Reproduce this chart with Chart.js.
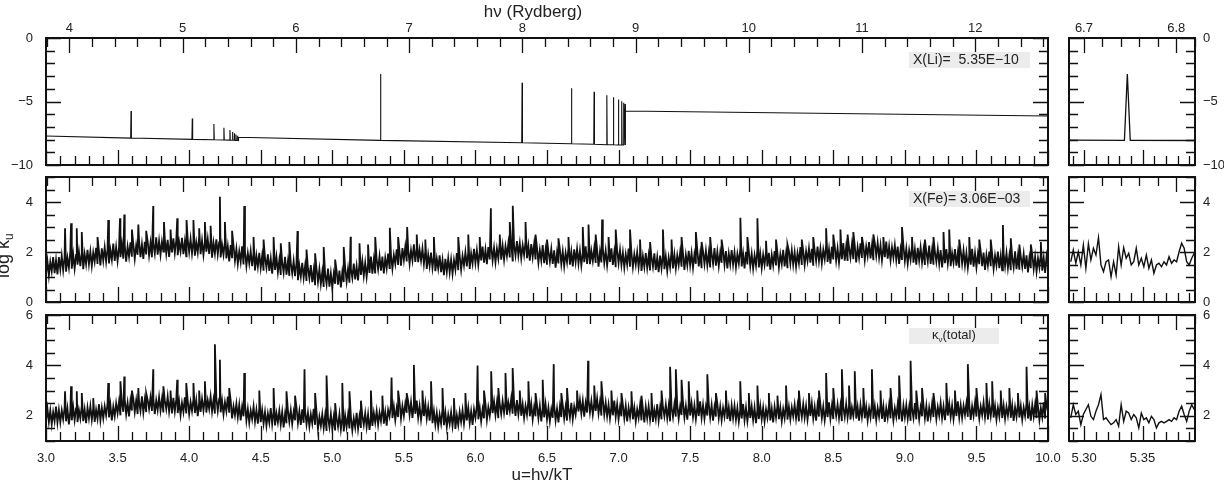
<!DOCTYPE html>
<html>
<head>
<meta charset="utf-8">
<script src="https://cdn.jsdelivr.net/npm/chart.js@4.4.1/dist/chart.umd.min.js"></script>
<style>
  body { margin: 0; background: #fff; }
  #wrap { position: relative; width: 1224px; height: 485px; }
  #wrap canvas { position: absolute; left: 0; top: 0; }
</style>
</head>
<body>
<div id="wrap">
  <canvas id="liMain" width="1224" height="485"></canvas>
  <canvas id="feMain" width="1224" height="485"></canvas>
  <canvas id="totMain" width="1224" height="485"></canvas>
  <canvas id="liSide" width="1224" height="485"></canvas>
  <canvas id="feSide" width="1224" height="485"></canvas>
  <canvas id="totSide" width="1224" height="485"></canvas>
</div>
<script>
// kT in Rydberg, so that hv = kT * u (top axis)
const kT = 1.2642;

// ---- Li: continuum knots and bound-bound lines (log kappa_u) ----
const liBaseU = [3.0, 4.345, 4.345, 7.048, 7.048, 10.0];
const liBaseV = [-7.72, -8.08, -7.82, -8.43, -5.75, -6.14];
const liLineU = [3.594, 4.022, 4.173, 4.243, 4.285, 4.304, 4.316, 4.327, 4.339,
                 5.337, 6.326, 6.671, 6.829, 6.918, 6.964, 6.999, 7.022, 7.036, 7.045];
const liLinePeak = [-5.75, -6.33, -6.77, -7.06, -7.24, -7.40, -7.50, -7.60, -7.70,
                    -2.83, -3.52, -3.96, -4.23, -4.51, -4.67, -4.85, -4.99, -5.10, -5.20];
const liLineFoot = [-7.88, -7.98, -8.01, -8.03, -8.04, -8.05, -8.05, -8.06, -8.07,
                    -8.06, -8.25, -8.33, -8.37, -8.40, -8.41, -8.42, -8.42, -8.43, -8.43];
const liLineHalfWidth = 0.0025;

// ---- Fe: sampled every 0.01 in u from 3.00 to 10.00 (one row = 0.1 in u) ----
const gridStart = 3.0, gridStep = 0.01;
const feVals = [
  1.11,1.63,1.05,1.60,1.23,1.80,1.15,1.68,1.10,1.80,
  1.30,1.85,1.27,1.79,1.21,1.76,1.37,2.03,1.33,1.90,
  1.34,1.88,1.49,2.01,1.43,1.99,1.31,1.92,1.51,2.09,
  1.51,2.02,1.44,1.98,1.61,2.17,1.52,2.04,1.46,2.15,
  1.65,2.19,1.61,2.12,1.54,2.08,1.69,2.34,1.64,2.20,
  1.64,2.18,1.79,2.31,1.73,2.29,1.61,2.22,1.81,2.39,
  1.81,2.32,1.73,2.27,1.89,2.45,1.79,2.31,1.72,2.41,
  1.90,2.44,1.86,2.37,1.79,2.33,1.94,2.59,1.89,2.45,
  1.89,2.42,2.02,2.53,1.94,2.49,1.80,2.40,1.98,2.55,
  1.96,2.46,1.87,2.40,2.02,2.57,1.91,2.42,1.83,2.51,
  2.00,2.53,1.94,2.44,1.85,2.38,1.98,2.62,1.91,2.46,
  1.89,2.42,2.01,2.52,1.92,2.47,1.77,2.37,1.94,2.51,
  1.91,2.39,1.78,2.29,1.89,2.42,1.74,2.23,1.62,2.28,
  1.75,2.26,1.65,2.13,1.52,2.03,1.61,2.23,1.50,2.03,
  1.44,1.96,1.54,2.04,1.43,1.97,1.26,1.85,1.41,1.97,
  1.36,1.85,1.25,1.76,1.37,1.91,1.24,1.74,1.13,1.80,
  1.28,1.80,1.19,1.68,1.08,1.60,1.18,1.81,1.09,1.62,
  1.04,1.56,1.14,1.64,1.03,1.57,0.87,1.45,1.02,1.57,
  0.97,1.45,0.84,1.35,0.95,1.48,0.79,1.28,0.67,1.33,
  0.80,1.32,0.72,1.20,0.60,1.12,0.71,1.34,0.61,1.15,
  0.57,1.12,0.73,1.26,0.69,1.26,0.58,1.20,0.80,1.38,
  0.81,1.33,0.77,1.32,0.96,1.54,0.90,1.43,0.86,1.57,
  1.08,1.63,1.05,1.57,1.00,1.55,1.16,1.82,1.13,1.69,
  1.14,1.69,1.30,1.83,1.25,1.82,1.14,1.76,1.35,1.94,
  1.36,1.89,1.33,1.88,1.53,2.11,1.48,2.02,1.45,2.16,
  1.68,2.21,1.62,2.13,1.53,2.07,1.67,2.31,1.60,2.16,
  1.59,2.09,1.66,2.14,1.52,2.04,1.32,1.89,1.44,1.98,
  1.36,1.84,1.23,1.74,1.34,1.87,1.19,1.68,1.07,1.73,
  1.20,1.75,1.18,1.70,1.13,1.68,1.30,1.96,1.27,1.84,
  1.29,1.84,1.46,1.99,1.42,1.99,1.32,1.94,1.54,2.13,
  1.56,2.07,1.49,2.03,1.66,2.22,1.57,2.09,1.51,2.20,
  1.70,2.24,1.66,2.17,1.59,2.13,1.74,2.39,1.69,2.25,
  1.69,2.23,1.84,2.36,1.78,2.34,1.66,2.27,1.86,2.44,
  1.86,2.35,1.75,2.27,1.88,2.42,1.75,2.25,1.65,2.32,
  1.80,2.31,1.70,2.18,1.57,2.08,1.66,2.28,1.55,2.08,
  1.49,2.02,1.61,2.12,1.52,2.07,1.37,1.97,1.54,2.11,
  1.51,2.02,1.43,1.97,1.59,2.15,1.49,2.01,1.42,2.11,
  1.60,2.13,1.54,2.05,1.46,1.99,1.59,2.23,1.52,2.08,
  1.51,2.04,1.64,2.15,1.56,2.11,1.41,2.01,1.58,2.15,
  1.56,2.06,1.46,1.98,1.60,2.15,1.48,1.99,1.39,2.07,
  1.55,2.08,1.48,1.98,1.38,1.91,1.50,2.14,1.41,1.96,
  1.39,1.91,1.50,2.00,1.40,1.94,1.24,1.83,1.40,1.96,
  1.36,1.86,1.26,1.78,1.40,1.95,1.28,1.79,1.19,1.86,
  1.35,1.89,1.31,1.82,1.24,1.78,1.39,2.04,1.34,1.90,
  1.34,1.87,1.48,1.99,1.41,1.96,1.28,1.89,1.47,2.05,
  1.46,1.96,1.37,1.91,1.53,2.08,1.42,1.93,1.35,2.03,
  1.52,2.05,1.47,1.97,1.38,1.92,1.52,2.16,1.45,2.01,
  1.44,1.97,1.57,2.08,1.49,2.04,1.34,1.94,1.51,2.08,
  1.49,1.99,1.39,1.92,1.54,2.09,1.42,1.93,1.34,2.01,
  1.50,2.03,1.43,1.93,1.34,1.87,1.46,2.10,1.38,1.93,
  1.36,1.89,1.49,2.00,1.42,1.97,1.29,1.89,1.47,2.04,
  1.46,1.96,1.38,1.91,1.53,2.09,1.42,1.94,1.35,2.04,
  1.53,2.07,1.49,1.99,1.41,1.95,1.55,2.20,1.48,2.05,
  1.49,2.03,1.64,2.15,1.57,2.13,1.45,2.06,1.64,2.22,
  1.64,2.14,1.55,2.09,1.71,2.26,1.60,2.11,1.53,2.21,
  1.70,2.24,1.65,2.15,1.57,2.11,1.71,2.36,1.65,2.21,
  1.64,2.18,1.78,2.30,1.71,2.27,1.58,2.19,1.77,2.35,
  1.76,2.27,1.68,2.22,1.84,2.40,1.74,2.26,1.67,2.36,
  1.85,2.37,1.78,2.27,1.67,2.20,1.79,2.42,1.73,2.23,
  1.67,2.19,1.78,2.28,1.68,2.22,1.52,2.11,1.68,2.24,
  1.64,2.14,1.54,2.07,1.69,2.24,1.57,2.10,1.49,2.17,
  1.65,2.18,1.58,2.08,1.48,2.01,1.62,2.26,1.52,2.07,
  1.49,2.02,1.61,2.12,1.53,2.08,1.38,1.98,1.55,2.12,
  1.53,2.03,1.43,1.96,1.57,2.12,1.45,1.96,1.37,2.05,
  1.53,2.06,1.46,1.96,1.37,1.90,1.49,2.13,1.41,1.96,
  1.39,1.92,1.51,2.03,1.43,1.98,1.28,1.88,1.46,2.02,
  1.43,1.93,1.33,1.86,1.47,2.02,1.35,1.86,1.27,1.95,
  1.43,1.96,1.36,1.86,1.27,1.80,1.39,2.03,1.31,1.86,
  1.29,1.82,1.41,1.92,1.32,1.87,1.18,1.77,1.35,1.91,
  1.32,1.82,1.22,1.75,1.37,1.92,1.25,1.76,1.16,1.84,
  1.50
];
const feSpikeU = [3.133,3.175,3.215,3.25,3.36,3.435,3.517,3.547,3.60,3.645,3.70,3.749,3.824,3.87,3.917,3.982,
  4.03,4.07,4.11,4.15,4.215,4.25,4.30,4.385,4.45,4.52,4.59,4.64,4.70,4.757,4.82,4.88,4.94,5.02,5.08,5.128,
  5.19,5.25,5.30,5.402,5.46,5.523,5.59,5.65,5.71,5.88,5.95,6.03,6.108,6.17,6.24,6.261,6.35,6.42,6.50,6.58,
  6.65,6.75,6.79,6.84,6.885,6.93,6.98,7.08,7.15,7.22,7.31,7.37,7.44,7.54,7.58,7.64,7.72,7.851,7.90,7.97,
  8.03,8.10,8.18,8.28,8.36,8.45,8.50,8.55,8.60,8.64,8.70,8.78,8.85,8.98,9.05,9.14,9.20,9.27,9.31,9.38,
  9.45,9.52,9.60,9.685,9.74,9.80,9.88,9.95];
const feSpikeV = [2.95,3.15,2.95,2.80,2.60,3.28,3.35,3.50,2.90,3.10,2.85,3.84,3.20,2.90,3.35,3.28,
  3.28,2.95,3.20,3.05,4.21,3.20,2.85,3.84,2.60,2.50,2.60,2.35,2.40,2.84,2.10,1.95,2.20,1.70,2.20,2.61,
  2.35,2.30,2.60,2.97,2.60,3.00,2.70,2.50,2.60,2.60,2.70,2.60,3.75,2.70,3.20,3.85,3.20,2.70,2.50,2.55,
  2.60,3.00,3.10,2.70,3.30,2.60,2.90,2.90,2.50,2.40,2.90,2.50,2.60,2.80,2.40,2.60,2.50,3.37,2.60,3.35,
  2.45,2.50,2.30,2.50,2.60,2.95,2.70,2.90,2.70,2.80,2.60,2.70,2.60,3.00,2.60,2.50,2.60,2.80,2.90,2.50,
  2.60,2.50,2.50,3.08,2.55,2.30,2.30,2.40];

// ---- total: same grid ----
const totVals = [
  1.81,2.29,1.75,2.21,1.67,2.15,1.79,2.37,1.73,2.23,
  1.74,2.22,1.86,2.32,1.78,2.28,1.66,2.20,1.82,2.34,
  1.83,2.29,1.75,2.23,1.89,2.39,1.79,2.25,1.71,2.33,
  1.90,2.38,1.84,2.30,1.76,2.24,1.88,2.46,1.82,2.32,
  1.90,2.38,2.02,2.48,1.94,2.44,1.82,2.36,1.98,2.50,
  2.10,2.56,2.02,2.50,2.16,2.66,2.06,2.52,1.98,2.60,
  2.21,2.69,2.15,2.61,2.07,2.55,2.19,2.77,2.13,2.63,
  2.15,2.63,2.27,2.73,2.19,2.69,2.07,2.61,2.23,2.75,
  2.21,2.67,2.13,2.61,2.27,2.77,2.17,2.63,2.09,2.71,
  2.17,2.65,2.11,2.57,2.03,2.51,2.15,2.73,2.09,2.59,
  2.07,2.55,2.19,2.65,2.11,2.61,1.99,2.53,2.15,2.67,
  2.21,2.67,2.13,2.61,2.27,2.77,2.17,2.63,2.09,2.71,
  2.20,2.68,2.14,2.60,2.06,2.54,2.18,2.76,2.12,2.62,
  1.90,2.38,2.02,2.48,1.94,2.44,1.82,2.36,1.98,2.50,
  1.81,2.27,1.73,2.21,1.87,2.37,1.77,2.23,1.69,2.31,
  1.75,2.23,1.69,2.15,1.61,2.09,1.73,2.31,1.67,2.17,
  1.62,2.10,1.74,2.20,1.66,2.16,1.54,2.08,1.70,2.22,
  1.76,2.22,1.68,2.16,1.82,2.32,1.72,2.18,1.64,2.26,
  1.72,2.20,1.66,2.12,1.58,2.06,1.70,2.28,1.64,2.14,
  1.48,1.96,1.60,2.06,1.52,2.02,1.40,1.94,1.56,2.08,
  1.50,1.96,1.42,1.90,1.56,2.06,1.46,1.92,1.38,2.00,
  1.56,2.04,1.50,1.96,1.42,1.90,1.54,2.12,1.48,1.98,
  1.52,2.00,1.64,2.10,1.56,2.06,1.44,1.98,1.60,2.12,
  1.73,2.19,1.65,2.13,1.79,2.29,1.69,2.15,1.61,2.23,
  1.97,2.45,1.91,2.37,1.83,2.31,1.95,2.53,1.89,2.39,
  2.00,2.48,2.12,2.58,2.04,2.54,1.92,2.46,2.08,2.60,
  1.93,2.39,1.85,2.33,1.99,2.49,1.89,2.35,1.81,2.43,
  1.71,2.19,1.65,2.11,1.57,2.05,1.69,2.27,1.63,2.13,
  1.56,2.04,1.68,2.14,1.60,2.10,1.48,2.02,1.64,2.16,
  1.76,2.22,1.68,2.16,1.82,2.32,1.72,2.18,1.64,2.26,
  1.92,2.40,1.86,2.32,1.78,2.26,1.90,2.48,1.84,2.34,
  1.99,2.47,2.11,2.57,2.03,2.53,1.91,2.45,2.07,2.59,
  2.12,2.58,2.04,2.52,2.18,2.68,2.08,2.54,2.00,2.62,
  2.06,2.54,2.00,2.46,1.92,2.40,2.04,2.62,1.98,2.48,
  1.86,2.34,1.98,2.44,1.90,2.40,1.78,2.32,1.94,2.46,
  1.86,2.32,1.78,2.26,1.92,2.42,1.82,2.28,1.74,2.36,
  1.95,2.43,1.89,2.35,1.81,2.29,1.93,2.51,1.87,2.37,
  2.05,2.53,2.17,2.63,2.09,2.59,1.97,2.51,2.13,2.65,
  2.13,2.59,2.05,2.53,2.19,2.69,2.09,2.55,2.01,2.63,
  2.04,2.52,1.98,2.44,1.90,2.38,2.02,2.60,1.96,2.46,
  1.86,2.34,1.98,2.44,1.90,2.40,1.78,2.32,1.94,2.46,
  1.86,2.32,1.78,2.26,1.92,2.42,1.82,2.28,1.74,2.36,
  1.90,2.38,1.84,2.30,1.76,2.24,1.88,2.46,1.82,2.32,
  1.86,2.34,1.98,2.44,1.90,2.40,1.78,2.32,1.94,2.46,
  1.97,2.43,1.89,2.37,2.03,2.53,1.93,2.39,1.85,2.47,
  2.01,2.49,1.95,2.41,1.87,2.35,1.99,2.57,1.93,2.43,
  1.89,2.37,2.01,2.47,1.93,2.43,1.81,2.35,1.97,2.49,
  1.91,2.37,1.83,2.31,1.97,2.47,1.87,2.33,1.79,2.41,
  1.91,2.39,1.85,2.31,1.77,2.25,1.89,2.47,1.83,2.33,
  1.79,2.27,1.91,2.37,1.83,2.33,1.71,2.25,1.87,2.39,
  1.86,2.32,1.78,2.26,1.92,2.42,1.82,2.28,1.74,2.36,
  1.93,2.41,1.87,2.33,1.79,2.27,1.91,2.49,1.85,2.35,
  1.86,2.34,1.98,2.44,1.90,2.40,1.78,2.32,1.94,2.46,
  1.93,2.39,1.85,2.33,1.99,2.49,1.89,2.35,1.81,2.43,
  1.97,2.45,1.91,2.37,1.83,2.31,1.95,2.53,1.89,2.39,
  1.87,2.35,1.99,2.45,1.91,2.41,1.79,2.33,1.95,2.47,
  1.93,2.39,1.85,2.33,1.99,2.49,1.89,2.35,1.81,2.43,
  1.96,2.44,1.90,2.36,1.82,2.30,1.94,2.52,1.88,2.38,
  1.84,2.32,1.96,2.42,1.88,2.38,1.76,2.30,1.92,2.44,
  1.90,2.36,1.82,2.30,1.96,2.46,1.86,2.32,1.78,2.40,
  1.94,2.42,1.88,2.34,1.80,2.28,1.92,2.50,1.86,2.36,
  1.86,2.34,1.98,2.44,1.90,2.40,1.78,2.32,1.94,2.46,
  1.95,2.41,1.87,2.35,2.01,2.51,1.91,2.37,1.83,2.45,
  2.01,2.49,1.95,2.41,1.87,2.35,1.99,2.57,1.93,2.43,
  1.92,2.40,2.04,2.50,1.96,2.46,1.84,2.38,2.00,2.52,
  1.97,2.43,1.89,2.37,2.03,2.53,1.93,2.39,1.85,2.47,
  1.99,2.47,1.93,2.39,1.85,2.33,1.97,2.55,1.91,2.41,
  1.88,2.36,2.00,2.46,1.92,2.42,1.80,2.34,1.96,2.48,
  1.93,2.39,1.85,2.33,1.99,2.49,1.89,2.35,1.81,2.43,
  1.97,2.45,1.91,2.37,1.83,2.31,1.95,2.53,1.89,2.39,
  2.15
];
const totSpikeU = [3.133,3.175,3.215,3.25,3.33,3.435,3.52,3.547,3.60,3.645,3.70,3.749,3.82,3.87,3.917,3.98,
  4.03,4.07,4.11,4.18,4.215,4.28,4.385,4.49,4.59,4.68,4.74,4.806,4.88,4.96,5.02,5.07,5.12,5.20,5.27,5.35,
  5.414,5.46,5.52,5.57,5.63,5.69,5.77,5.85,5.93,6.015,6.06,6.11,6.16,6.21,6.26,6.31,6.37,6.42,6.47,6.547,
  6.60,6.64,6.71,6.787,6.83,6.88,6.95,7.02,7.09,7.16,7.23,7.30,7.36,7.40,7.44,7.49,7.55,7.62,7.68,7.75,
  7.85,7.91,7.97,8.05,8.11,8.17,8.26,8.33,8.40,8.45,8.50,8.56,8.61,8.65,8.71,8.77,8.83,8.90,8.96,9.04,
  9.08,9.12,9.20,9.29,9.35,9.44,9.50,9.57,9.61,9.67,9.73,9.79,9.85,9.92,9.98];
const totSpikeV = [2.97,3.17,2.97,2.90,2.70,3.30,3.37,3.56,3.00,3.10,2.90,3.85,3.17,3.00,3.43,3.30,
  3.30,3.00,3.37,4.84,4.22,3.10,3.70,3.00,3.10,2.97,2.80,3.85,2.90,3.60,2.50,3.30,2.97,2.60,3.00,2.80,
  3.52,3.00,2.90,4.02,3.00,3.37,3.10,2.70,2.90,4.00,3.00,3.77,3.10,3.70,3.90,3.00,3.37,2.90,3.43,4.05,
  2.90,3.10,3.00,4.18,3.20,3.37,3.00,2.90,2.97,2.80,2.90,3.00,3.95,3.85,3.43,3.37,3.00,3.65,2.90,3.00,
  3.37,2.90,3.20,2.90,2.80,3.20,3.00,2.90,3.00,3.70,3.10,3.85,3.20,3.77,3.10,3.85,3.00,3.10,3.60,4.18,
  3.00,3.10,2.90,3.30,3.00,4.05,3.10,3.30,3.37,3.00,3.10,2.90,3.95,3.00,2.90];

// ---- close-ups around u = 5.29 .. 5.39 ----
const zoomStart = 5.2885, zoomStep = 0.00216;
const feZoomVals = [1.61,2.08,1.55,2.01,1.48,2.28,1.35,2.33,1.68,2.15,1.88,2.57,1.48,1.21,1.61,1.68,1.01,
  1.61,1.08,2.21,1.48,2.17,1.75,1.95,1.48,1.61,2.15,1.48,1.75,1.41,1.88,1.35,1.68,1.15,1.48,1.55,1.41,
  1.61,1.48,1.81,1.55,1.68,1.61,2.01,2.35,2.15,1.61,1.48,1.75,1.95];
const totZoomVals = [1.92,2.44,2.05,2.18,1.65,2.05,2.25,2.44,1.98,1.85,2.18,2.44,2.84,1.85,1.92,1.78,1.65,
  1.72,1.85,1.59,2.44,1.78,2.18,2.11,1.85,2.05,1.92,1.52,2.11,1.85,1.92,1.72,1.98,1.85,1.52,1.72,1.78,
  1.72,1.78,1.85,1.78,1.92,1.85,2.18,2.38,2.05,1.78,2.18,2.44,2.25];

// ---- layout ----
const COLS = { main: [46, 1048], side: [1069, 1195] };
const ROWS = [[38, 165], [177, 302], [315, 441]];
const U_RANGE = { main: [3.0, 10.0], side: [5.287, 5.395] };
const Y_RANGES = [[-10, 0], [0, 5], [1, 6]];
const Y_STEPS = [[5, 1], [2, 0.5], [2, 0.5]];
const FONT = '"Liberation Sans", Arial, Helvetica, sans-serif';

function liPoints() {
  const pts = liBaseU.map((u, i) => ({ x: u, y: liBaseV[i] }));
  liLineU.forEach((u, i) => {
    pts.push({ x: u - liLineHalfWidth, y: liLineFoot[i] });
    pts.push({ x: u, y: liLinePeak[i] });
    pts.push({ x: u + liLineHalfWidth, y: liLineFoot[i] });
  });
  return pts.sort((a, b) => a.x - b.x);
}

function bandPoints(vals, spikeU, spikeV) {
  const pts = vals.map((v, i) => ({ x: +(gridStart + i * gridStep).toFixed(4), y: v }));
  spikeU.forEach((u, i) => pts.push({ x: u, y: spikeV[i] }));
  return pts.sort((a, b) => a.x - b.x);
}

function zoomPoints(vals) {
  return vals.map((v, i) => ({ x: zoomStart + i * zoomStep, y: v }));
}

function tickList(min, max, step, major) {
  const out = [];
  const k0 = Math.ceil(min / step - 1e-6), k1 = Math.floor(max / step + 1e-6);
  for (let k = k0; k <= k1; k++) {
    const v = k * step;
    const r = v / major;
    out.push({ v, major: Math.abs(r - Math.round(r)) < 1e-6 });
  }
  return out;
}

function fmtNum(v, digits) {
  const s = Math.abs(v).toFixed(digits);
  return v < -1e-9 ? '\u2212' + s : s;
}

function legendBox(ctx, x, y, w, h) {
  ctx.fillStyle = '#ececec';
  ctx.fillRect(x, y, w, h);
  ctx.fillStyle = '#222';
}

function framePlugin(cfg) {
  return {
    id: 'frame',
    afterDraw(chart) {
      const { ctx, chartArea: a, scales: { x, y } } = chart;
      const side = cfg.col === 'side';
      const uStep = side ? [0.05, 0.01] : [0.5, 0.1];
      const hStep = side ? [0.1, 0.02] : [1, 0.2];
      const yStep = Y_STEPS[cfg.row];
      ctx.save();
      ctx.strokeStyle = '#111';
      ctx.lineWidth = 1.3;
      ctx.beginPath();
      const uTicks = tickList(x.min, x.max, uStep[1], uStep[0]);
      uTicks.forEach(t => {
        const px = Math.round(x.getPixelForValue(t.v)) + 0.5;
        ctx.moveTo(px, a.bottom);
        ctx.lineTo(px, a.bottom - (t.major ? 15 : 9));
      });
      const hTicks = tickList(x.min * kT, x.max * kT, hStep[1], hStep[0]);
      hTicks.forEach(t => {
        const px = Math.round(x.getPixelForValue(t.v / kT)) + 0.5;
        ctx.moveTo(px, a.top);
        ctx.lineTo(px, a.top + (t.major ? 15 : 9));
      });
      const yTicks = tickList(y.min, y.max, yStep[1], yStep[0]);
      yTicks.forEach(t => {
        const py = Math.round(y.getPixelForValue(t.v)) + 0.5;
        const len = t.major ? 15 : 9;
        ctx.moveTo(a.left, py); ctx.lineTo(a.left + len, py);
        ctx.moveTo(a.right, py); ctx.lineTo(a.right - len, py);
      });
      ctx.stroke();
      ctx.lineWidth = 2;
      ctx.strokeRect(a.left, a.top, a.right - a.left, a.bottom - a.top);

      ctx.fillStyle = '#222';
      ctx.font = '13px ' + FONT;
      ctx.textBaseline = 'middle';
      ctx.textAlign = 'center';
      if (cfg.row === 2) {
        uTicks.filter(t => t.major).forEach(t =>
          ctx.fillText(fmtNum(t.v, side ? 2 : 1), x.getPixelForValue(t.v), a.bottom + 17));
      }
      if (cfg.row === 0) {
        hTicks.filter(t => t.major).forEach(t =>
          ctx.fillText(fmtNum(t.v, side ? 1 : 0), x.getPixelForValue(t.v / kT), a.top - 10));
      }
      ctx.textAlign = side ? 'left' : 'right';
      yTicks.filter(t => t.major).forEach(t => {
        const px = side ? a.right + 8 : a.left - 13;
        ctx.fillText(fmtNum(t.v, 0), px, y.getPixelForValue(t.v));
      });
      if (cfg.extra) cfg.extra(ctx);
      ctx.restore();
    }
  };
}

function makePanel(id, row, col, points, lineWidth, extra) {
  const [l, r] = COLS[col];
  const [t, b] = ROWS[row];
  return new Chart(document.getElementById(id), {
    type: 'line',
    data: {
      datasets: [{
        data: points,
        borderColor: '#111',
        borderWidth: lineWidth,
        pointRadius: 0,
        tension: 0,
        fill: false
      }]
    },
    options: {
      responsive: false,
      animation: false,
      events: [],
      layout: { padding: { left: l, right: 1224 - r, top: t, bottom: 485 - b } },
      scales: {
        x: { type: 'linear', min: U_RANGE[col][0], max: U_RANGE[col][1], display: false },
        y: { type: 'linear', min: Y_RANGES[row][0], max: Y_RANGES[row][1], display: false }
      },
      plugins: { legend: { display: false }, tooltip: { enabled: false } }
    },
    plugins: [framePlugin({ row, col, extra })]
  });
}

makePanel('liMain', 0, 'main', liPoints(), 1.1, ctx => {
  ctx.font = '17px ' + FONT;
  ctx.textAlign = 'center';
  ctx.textBaseline = 'alphabetic';
  ctx.fillText('h\u03bd (Rydberg)', 533, 17);
  legendBox(ctx, 909, 52, 121, 16);
  ctx.font = '14px ' + FONT;
  ctx.textAlign = 'left';
  ctx.textBaseline = 'middle';
  ctx.fillText('X(Li)=  5.35E\u221210', 913, 60);
});

makePanel('feMain', 1, 'main', bandPoints(feVals, feSpikeU, feSpikeV), 1.8, ctx => {
  legendBox(ctx, 909, 191, 121, 16);
  ctx.font = '14px ' + FONT;
  ctx.textAlign = 'left';
  ctx.textBaseline = 'middle';
  ctx.fillText('X(Fe)= 3.06E\u221203', 913, 199);
  // y axis title, rotated, partly off the left edge
  ctx.save();
  ctx.translate(9, 252);
  ctx.rotate(-Math.PI / 2);
  ctx.font = '18px ' + FONT;
  ctx.textBaseline = 'alphabetic';
  ctx.textAlign = 'left';
  const w1 = ctx.measureText('log \u03ba').width;
  ctx.fillText('log \u03ba', -26, 0);
  ctx.font = '12px ' + FONT;
  ctx.fillText('u', -26 + w1, 4);
  ctx.restore();
});

makePanel('totMain', 2, 'main', bandPoints(totVals, totSpikeU, totSpikeV), 1.8, ctx => {
  legendBox(ctx, 909, 328, 90, 16);
  ctx.font = '13px ' + FONT;
  ctx.textAlign = 'left';
  ctx.textBaseline = 'middle';
  ctx.fillText('\u03ba', 932, 335);
  const wk = ctx.measureText('\u03ba').width;
  ctx.font = '8px ' + FONT;
  ctx.fillText('\u03bd', 932 + wk, 340);
  ctx.font = '13px ' + FONT;
  ctx.fillText('(total)', 932 + wk + 4, 335);
  ctx.font = '17px ' + FONT;
  ctx.textAlign = 'center';
  ctx.textBaseline = 'alphabetic';
  ctx.fillText('u=h\u03bd/kT', 542, 480);
});

makePanel('liSide', 0, 'side', liPoints(), 1.3);
makePanel('feSide', 1, 'side', zoomPoints(feZoomVals), 1.4);
makePanel('totSide', 2, 'side', zoomPoints(totZoomVals), 1.4);
</script>
</body>
</html>
